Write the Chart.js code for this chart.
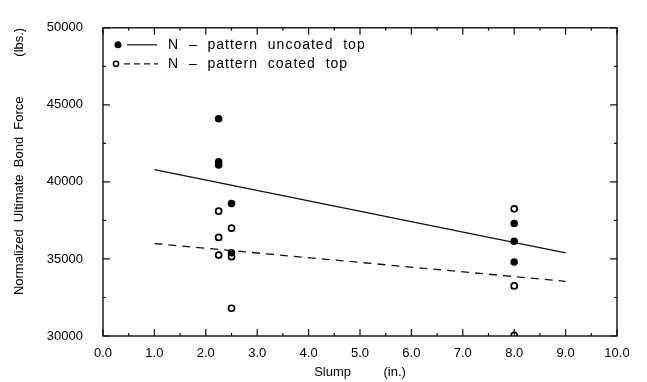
<!DOCTYPE html>
<html>
<head>
<meta charset="utf-8">
<script src="https://cdn.jsdelivr.net/npm/chart.js@4"></script>
<style>
  html, body { margin: 0; padding: 0; background: #fff; }
  #wrap { width: 647px; height: 382px; }
</style>
</head>
<body>
<div id="wrap"><canvas id="bondChart" width="647" height="382"></canvas></div>
<script>
// datos
const uncoatedX = [2.25, 2.25, 2.25, 2.5, 2.5, 8.0, 8.0, 8.0];
const uncoatedY = [44100, 41300, 41100, 38600, 35400, 37300, 36150, 34800];
const coatedX = [2.25, 2.25, 2.25, 2.5, 2.5, 2.5, 8.0, 8.0, 8.0];
const coatedY = [38100, 36400, 35250, 37000, 35150, 31800, 38250, 33250, 30050];
const trendX = [1.0, 9.0];
const uncoatedTrend = [40800, 35400];
const coatedTrend = [36000, 33550];
const legendLabels = ['N  \u2013  pattern  uncoated  top', 'N  \u2013  pattern  coated  top'];

const FONT = '"Liberation Sans", Arial, sans-serif';
const toPoints = (xs, ys) => xs.map((x, i) => ({ x: x, y: ys[i] }));

// marco, marcas hacia adentro y leyenda dentro del area
const framePlugin = {
  id: 'frame',
  afterDraw(chart) {
    const { ctx, chartArea: a, scales: { x, y } } = chart;
    ctx.save();
    ctx.strokeStyle = '#111';
    ctx.lineWidth = 1.4;
    ctx.strokeRect(a.left, a.top, a.right - a.left, a.bottom - a.top);
    ctx.lineWidth = 1.2;
    ctx.beginPath();
    for (let v = 0; v <= 10; v += 0.5) {
      const px = x.getPixelForValue(v);
      const len = Number.isInteger(v) ? 7 : 3;
      ctx.moveTo(px, a.bottom); ctx.lineTo(px, a.bottom - len);
      ctx.moveTo(px, a.top); ctx.lineTo(px, a.top + len);
    }
    for (let v = 30000; v <= 50000; v += 2500) {
      const py = y.getPixelForValue(v);
      const len = v % 5000 === 0 ? 7 : 3;
      ctx.moveTo(a.left, py); ctx.lineTo(a.left + len, py);
      ctx.moveTo(a.right, py); ctx.lineTo(a.right - len, py);
    }
    ctx.stroke();

    // leyenda
    ctx.font = '14px ' + FONT;
    ctx.letterSpacing = '1px';
    ctx.fillStyle = '#000';
    ctx.textBaseline = 'middle';
    const rows = [a.top + 17, a.top + 36];
    ctx.beginPath();
    ctx.arc(a.left + 15, rows[0], 3.5, 0, Math.PI * 2);
    ctx.fill();
    ctx.beginPath();
    ctx.lineWidth = 1.6;
    ctx.arc(a.left + 13, rows[1], 2.6, 0, Math.PI * 2);
    ctx.stroke();
    ctx.lineWidth = 1.2;
    ctx.beginPath();
    ctx.moveTo(a.left + 24, rows[0]); ctx.lineTo(a.left + 54, rows[0]);
    ctx.stroke();
    ctx.setLineDash([6, 4]);
    ctx.beginPath();
    ctx.moveTo(a.left + 21, rows[1]); ctx.lineTo(a.left + 55, rows[1]);
    ctx.stroke();
    ctx.setLineDash([]);
    ctx.fillText(legendLabels[0], a.left + 65, rows[0]);
    ctx.fillText(legendLabels[1], a.left + 65, rows[1]);
    ctx.restore();
  }
};

const ctx = document.getElementById('bondChart').getContext('2d');

new Chart(ctx, {
  type: 'scatter',
  data: {
    datasets: [
      {
        label: 'uncoated trend',
        type: 'line',
        data: toPoints(trendX, uncoatedTrend),
        borderColor: '#111',
        borderWidth: 1.3,
        pointRadius: 0,
        fill: false
      },
      {
        label: 'coated trend',
        type: 'line',
        data: toPoints(trendX, coatedTrend),
        borderColor: '#111',
        borderWidth: 1.3,
        borderDash: [8, 6],
        pointRadius: 0,
        fill: false
      },
      {
        label: legendLabels[0],
        data: toPoints(uncoatedX, uncoatedY),
        backgroundColor: '#000',
        borderColor: '#000',
        pointRadius: 3.8,
        borderWidth: 0
      },
      {
        label: legendLabels[1],
        data: toPoints(coatedX, coatedY),
        backgroundColor: '#fff',
        borderColor: '#000',
        pointRadius: 3,
        borderWidth: 1.7
      }
    ]
  },
  options: {
    responsive: false,
    animation: false,
    layout: { padding: { top: 16, right: 30, left: 0, bottom: 0 } },
    plugins: {
      legend: { display: false },
      tooltip: { enabled: false }
    },
    scales: {
      x: {
        type: 'linear',
        min: 0,
        max: 10,
        grid: { display: false, drawTicks: false },
        border: { display: false },
        ticks: {
          stepSize: 1,
          padding: 10,
          color: '#000',
          font: { family: FONT, size: 13 },
          callback: v => Number(v).toFixed(1)
        },
        title: {
          display: true,
          text: 'Slump         (in.)',
          color: '#000',
          font: { family: FONT, size: 13 },
          padding: { top: 0, bottom: 2 }
        },
        afterFit: s => { s.height = 46; }
      },
      y: {
        type: 'linear',
        min: 30000,
        max: 50000,
        grid: { display: false, drawTicks: false },
        border: { display: false },
        ticks: {
          stepSize: 5000,
          padding: 20,
          color: '#000',
          font: { family: FONT, size: 13 },
          callback: v => String(v)
        },
        title: {
          display: true,
          text: 'Normalized  Ultimate  Bond  Force           (lbs.)',
          align: 'end',
          color: '#000',
          font: { family: FONT, size: 13 },
          padding: { top: 12, bottom: 0 }
        },
        afterFit: s => { s.width = 103; }
      }
    }
  },
  plugins: [framePlugin]
});
</script>
</body>
</html>
